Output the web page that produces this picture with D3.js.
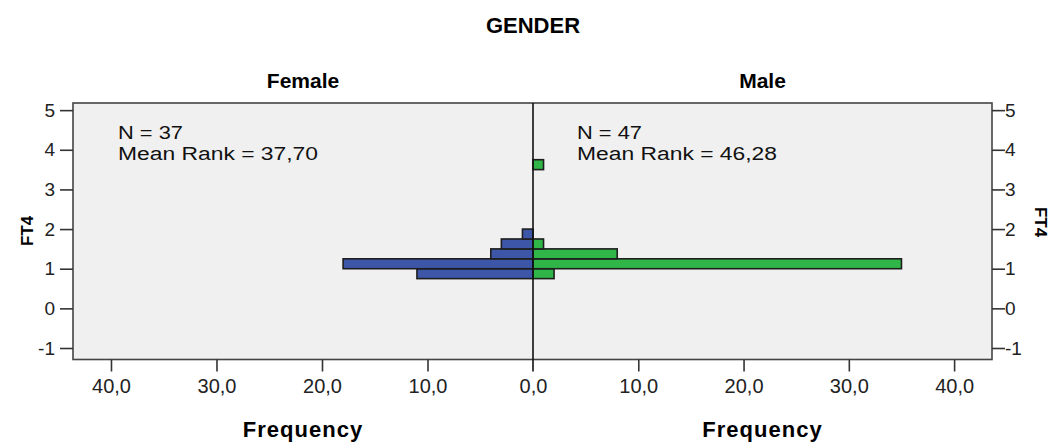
<!DOCTYPE html>
<html><head><meta charset="utf-8">
<script src="https://cdn.jsdelivr.net/npm/d3@7"></script>
<style>body{margin:0;background:#fff}svg{display:block;font-family:"Liberation Sans",Arial,sans-serif}</style>
</head><body><svg id="c" width="1053" height="445"></svg>
<script>
// Data
const binStart = [0.75, 1.0, 1.25, 1.5, 1.75, 3.5];
const binWidth = 0.25;
const femaleFreq = [11, 18, 4, 3, 1, 0];
const maleFreq = [2, 35, 8, 1, 0, 1];
const yTicks = [-1, 0, 1, 2, 3, 4, 5];
const xTicks = [0, 10, 20, 30, 40];
const groups = ["Female", "Male"];
const groupN = [37, 47];
const meanRank = ["37,70", "46,28"];

const svg = d3.select("#c");
const L = 73, R = 992, T = 103, B = 359.5, C = 533;
const y = d3.scaleLinear().domain([-1.29, 5.18]).range([B, T]);
const xl = d3.scaleLinear().domain([0, 43.6]).range([C, L]);
const xr = d3.scaleLinear().domain([0, 43.6]).range([C, R]);
const fmt = d => d3.format(".1f")(d).replace(".", ",");

svg.append("rect").attr("x", L).attr("y", T).attr("width", R - L).attr("height", B - T)
  .attr("fill", "#f0f0f0");

const fe = femaleFreq.map((v, i) => ({b: binStart[i], v})).filter(d => d.v > 0);
const ma = maleFreq.map((v, i) => ({b: binStart[i], v})).filter(d => d.v > 0);

svg.selectAll(".fb").data(fe).enter().append("rect")
  .attr("x", d => xl(d.v)).attr("width", d => xl(0) - xl(d.v))
  .attr("y", d => y(d.b + binWidth)).attr("height", d => y(d.b) - y(d.b + binWidth))
  .attr("fill", "#3e56a8").attr("stroke", "#1e1e1e").attr("stroke-width", 1.6);
svg.selectAll(".mb").data(ma).enter().append("rect")
  .attr("x", xr(0)).attr("width", d => xr(d.v) - xr(0))
  .attr("y", d => y(d.b + binWidth)).attr("height", d => y(d.b) - y(d.b + binWidth))
  .attr("fill", "#2fb548").attr("stroke", "#1e1e1e").attr("stroke-width", 1.6);

// frame
svg.append("rect").attr("x", L).attr("y", T).attr("width", R - L).attr("height", B - T)
  .attr("fill", "none").attr("stroke", "#444").attr("stroke-width", 1.6);
// center line
svg.append("line").attr("x1", C).attr("x2", C).attr("y1", T).attr("y2", B + 12)
  .attr("stroke", "#111").attr("stroke-width", 1.6);

// axes
const yfmt = d => String(d);
const axL = d3.axisLeft(y).tickValues(yTicks).tickSize(13).tickPadding(5).tickFormat(yfmt);
const axR = d3.axisRight(y).tickValues(yTicks).tickSize(13).tickPadding(0).tickFormat(yfmt);
const gl = svg.append("g").attr("transform", `translate(${L},0)`).call(axL);
const gr = svg.append("g").attr("transform", `translate(${R},0)`).call(axR);
const bxl = d3.axisBottom(xl).tickValues(xTicks).tickSize(12).tickPadding(6).tickFormat(fmt);
const bxr = d3.axisBottom(xr).tickValues(xTicks.slice(1)).tickSize(12).tickPadding(6).tickFormat(fmt);
const gb1 = svg.append("g").attr("transform", `translate(0,${B})`).call(bxl);
const gb2 = svg.append("g").attr("transform", `translate(0,${B})`).call(bxr);
[gl, gr, gb1, gb2].forEach(g => {
  g.select(".domain").remove();
  g.selectAll(".tick line").attr("stroke", "#333").attr("stroke-width", 1.6);
  g.selectAll(".tick text").attr("fill", "#222").style("font-size", "19px")
    .style("font-family", "'Liberation Sans',Arial,sans-serif");
});
[gb1, gb2].forEach(g => g.selectAll(".tick text").attr("dy", "0.75em").style("font-size", "20px"));
gb1.selectAll(".tick").filter(d => d === 0).select("line").remove();

// titles
svg.append("text").attr("x", C).attr("y", 33).attr("text-anchor", "middle")
  .style("font-weight", "bold").style("font-size", "22px").text("GENDER");
const gx = [xl(21.8), xr(21.8)];
groups.forEach((g, i) => {
  svg.append("text").attr("x", gx[i]).attr("y", 88).attr("text-anchor", "middle")
    .style("font-weight", "bold").style("font-size", "21px").text(g);
  svg.append("text").attr("x", gx[i]).attr("y", 437).attr("text-anchor", "middle")
    .style("font-weight", "bold").style("font-size", "22px").style("letter-spacing", "1px").text("Frequency");
});
const tx = [118, 577];
groups.forEach((g, i) => {
  svg.append("text").attr("x", tx[i]).attr("y", 139).style("font-size", "18px").attr("fill", "#111")
    .attr("textLength", 65).attr("lengthAdjust", "spacingAndGlyphs")
    .text(`N = ${groupN[i]}`);
  svg.append("text").attr("x", tx[i]).attr("y", 160).style("font-size", "18px").attr("fill", "#111")
    .attr("textLength", 200).attr("lengthAdjust", "spacingAndGlyphs")
    .text(`Mean Rank = ${meanRank[i]}`);
});
svg.append("text").attr("transform", "translate(33,231) rotate(-90)").attr("text-anchor", "middle")
  .style("font-weight", "bold").style("font-size", "17px").text("FT4");
svg.append("text").attr("transform", "translate(1035,222) rotate(90)").attr("text-anchor", "middle")
  .style("font-weight", "bold").style("font-size", "17px").text("FT4");
</script></body></html>
